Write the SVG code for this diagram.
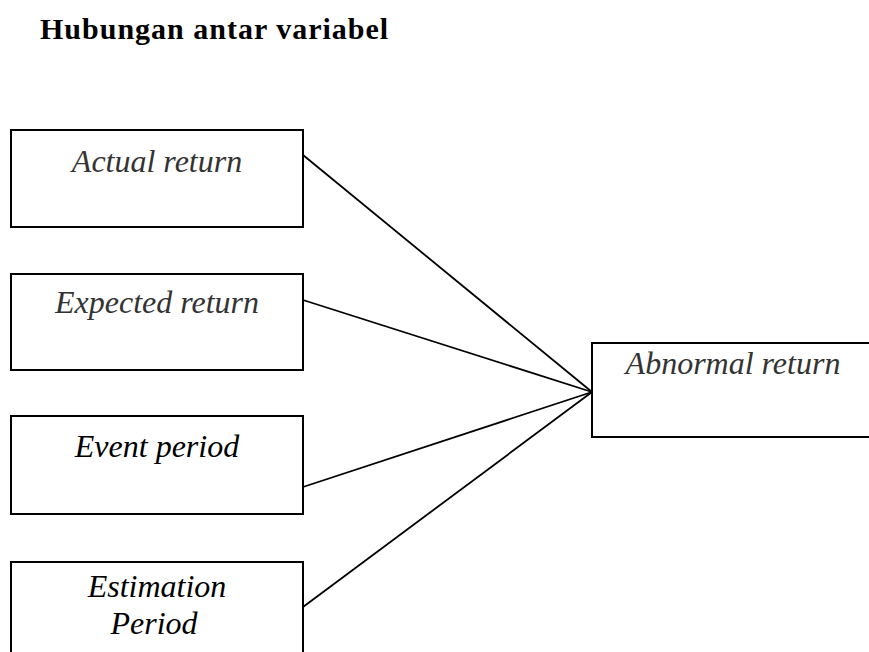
<svg xmlns="http://www.w3.org/2000/svg" width="869" height="652" viewBox="0 0 869 652">
<style>
.box{fill:#fff;stroke:#000;stroke-width:2}
.lbl{font-family:"Liberation Serif",serif;font-style:italic;font-size:32px;text-anchor:middle;fill:#000}
.faint{fill:#333}
.conn line{stroke:#000;stroke-width:1.8}
.title{font-family:"Liberation Serif",serif;font-weight:bold;font-size:30px;letter-spacing:1px;fill:#000}
</style>
<rect width="869" height="652" fill="#fff"/>
<text class="title" x="40" y="39">Hubungan antar variabel</text>
<g class="conn" id="connectors">
<line x1="303" y1="155" x2="592" y2="392"/>
<line x1="303" y1="300" x2="592" y2="392"/>
<line x1="303" y1="487" x2="592" y2="392"/>
<line x1="303" y1="607" x2="592" y2="392"/>
</g>
<g id="actual">
<rect class="box" x="11" y="130" width="292" height="97"/>
<text class="lbl faint" x="157" y="172">Actual return</text>
</g>
<g id="expected">
<rect class="box" x="11" y="274" width="292" height="96"/>
<text class="lbl faint" x="157" y="313">Expected return</text>
</g>
<g id="event">
<rect class="box" x="11" y="416" width="292" height="98"/>
<text class="lbl" x="157" y="457">Event period</text>
</g>
<g id="estimation">
<rect class="box" x="11" y="562" width="292" height="100"/>
<text class="lbl" x="157" y="597">Estimation</text>
<text class="lbl" x="154" y="634">Period</text>
</g>
<g id="abnormal">
<rect class="box" x="592" y="343" width="290" height="94"/>
<text class="lbl faint" x="733" y="374">Abnormal return</text>
</g>
</svg>
